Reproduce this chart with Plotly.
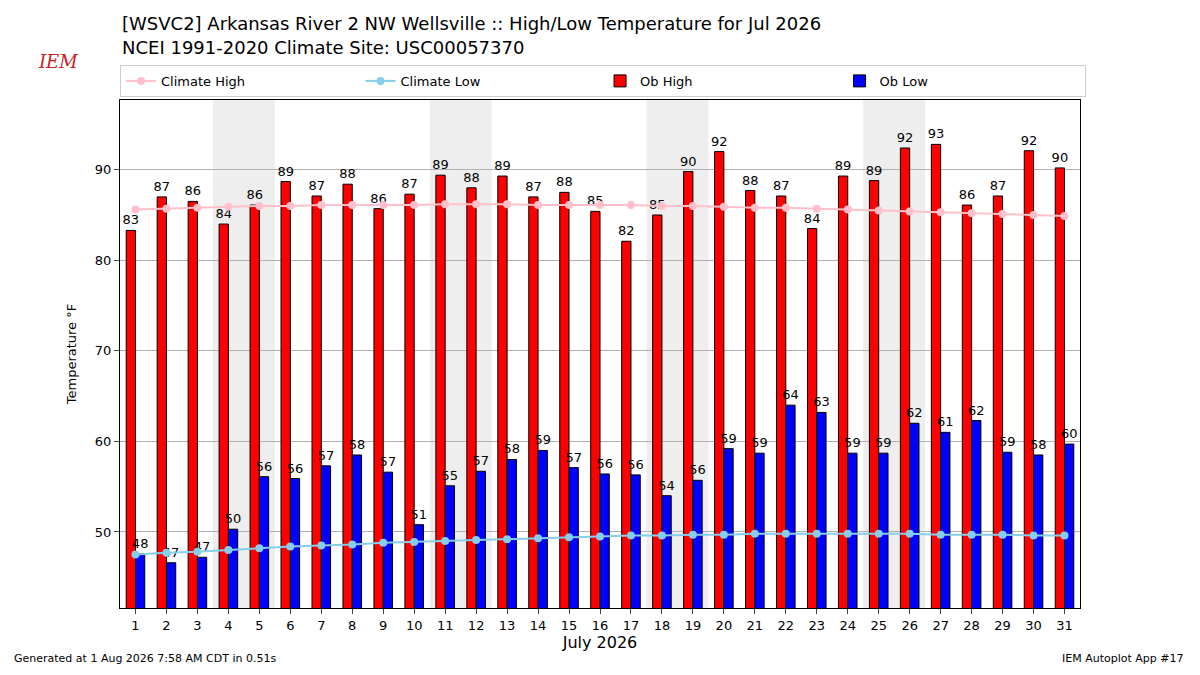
import plotly.graph_objects as go

days = list(range(1, 32))
ob_high = [83.3, 87.0, 86.5, 84.0, 86.1, 88.7, 87.1, 88.4, 85.7, 87.3, 89.4, 88.0, 89.3, 87.0, 87.5, 85.4,
           82.1, 85.0, 89.8, 92.0, 87.7, 87.1, 83.5, 89.3, 88.8, 92.4, 92.8, 86.1, 87.1, 92.1, 90.2]
ob_low = [47.6, 46.6, 47.2, 50.3, 56.1, 55.9, 57.3, 58.5, 56.6, 50.8, 55.1, 56.7, 58.0, 59.0, 57.1, 56.4,
          56.3, 54.0, 55.7, 59.2, 58.7, 64.0, 63.2, 58.7, 58.7, 62.0, 61.0, 62.3, 58.8, 58.5, 59.7]
clim_high = [85.6, 85.7, 85.8, 85.9, 86.0, 86.0, 86.1, 86.1, 86.1, 86.1, 86.2, 86.2, 86.2, 86.1, 86.1, 86.1,
             86.1, 86.0, 86.0, 85.9, 85.8, 85.8, 85.7, 85.6, 85.5, 85.4, 85.3, 85.2, 85.1, 85.0, 84.9]
clim_low = [47.5, 47.7, 47.8, 48.0, 48.2, 48.4, 48.5, 48.6, 48.8, 48.9, 49.0, 49.1, 49.2, 49.3, 49.4, 49.5,
            49.6, 49.6, 49.7, 49.7, 49.8, 49.8, 49.8, 49.8, 49.8, 49.8, 49.7, 49.7, 49.7, 49.6, 49.6]
weekends = [(3.5, 5.5), (10.5, 12.5), (17.5, 19.5), (24.5, 26.5)]

fig = go.Figure()
fig.add_trace(go.Bar(x=[d - 0.15 for d in days], y=ob_high, width=0.3, name="Ob High", legendrank=3,
                     marker=dict(color="red", line=dict(color="black", width=1)),
                     text=[f"{v:.0f}" for v in ob_high], textposition="outside",
                     textfont=dict(size=13, color="black"), cliponaxis=False))
fig.add_trace(go.Bar(x=[d + 0.15 for d in days], y=ob_low, width=0.3, name="Ob Low", legendrank=4,
                     marker=dict(color="blue", line=dict(color="black", width=1)),
                     text=[f"{v:.0f}" for v in ob_low], textposition="outside",
                     textfont=dict(size=13, color="black"), cliponaxis=False))
fig.add_trace(go.Scatter(x=days, y=clim_high, name="Climate High", mode="lines+markers", legendrank=1,
                         line=dict(color="pink", width=2), marker=dict(color="pink", size=8)))
fig.add_trace(go.Scatter(x=days, y=clim_low, name="Climate Low", mode="lines+markers", legendrank=2,
                         line=dict(color="skyblue", width=2), marker=dict(color="skyblue", size=8)))

for a, b in weekends:
    fig.add_vrect(x0=a, x1=b, fillcolor="#eeeeee", line_width=0, layer="below")

# page body has an 8px margin, so the figure is sized to fit the window
fig.update_layout(
    width=1184, height=659, barmode="overlay",
    paper_bgcolor="white", plot_bgcolor="white",
    font=dict(family="DejaVu Sans", color="black"),
    margin=dict(l=112, r=112, t=92, b=59),
    uniformtext=dict(minsize=13, mode="show"),
    legend=dict(orientation="h", x=0.0, y=1.006, xanchor="left", yanchor="bottom",
                bordercolor="#cccccc", borderwidth=1, font=dict(size=13),
                entrywidth=0.2495, entrywidthmode="fraction"),
    showlegend=True,
)
fig.update_xaxes(range=[0.5, 31.5], tickmode="array", tickvals=days, ticktext=[str(d) for d in days],
                 title=dict(text="July 2026", font=dict(size=16), standoff=4), showline=True, mirror=True,
                 linecolor="black", ticks="outside", showgrid=False, tickfont=dict(size=13))
fig.update_yaxes(range=[41.6, 97.7], dtick=10, title=dict(text="Temperature °F", font=dict(size=13)),
                 showline=True, mirror=True, linecolor="black", ticks="outside",
                 showgrid=True, gridcolor="#b0b0b0", tickfont=dict(size=13))

fig.add_annotation(text="[WSVC2] Arkansas River 2 NW Wellsville :: High/Low Temperature for Jul 2026",
                   xref="paper", yref="paper", x=0.0, y=1.15, xanchor="left", yanchor="middle",
                   showarrow=False, font=dict(size=18))
fig.add_annotation(text="NCEI 1991-2020 Climate Site: USC00057370",
                   xref="paper", yref="paper", x=0.0, y=1.104, xanchor="left", yanchor="middle",
                   showarrow=False, font=dict(size=18))
fig.add_annotation(text="Generated at 1 Aug 2026 7:58 AM CDT in 0.51s", xref="paper", yref="paper",
                   x=-0.112, y=-0.1, xanchor="left", yanchor="middle", showarrow=False, font=dict(size=11))
fig.add_annotation(text="IEM Autoplot App #17", xref="paper", yref="paper",
                   x=1.11, y=-0.1, xanchor="right", yanchor="middle", showarrow=False, font=dict(size=11))
fig.add_annotation(text="<i>IEM</i>", xref="paper", yref="paper", x=-0.087, y=1.1,
                   showarrow=False, font=dict(size=18, color="#cc2222", family="DejaVu Serif"))

fig.write_html("out.html")
